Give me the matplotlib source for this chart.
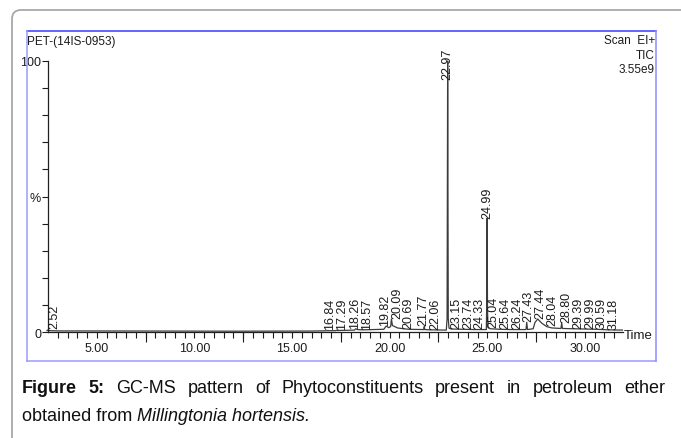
import matplotlib
matplotlib.use('Agg')
import matplotlib.pyplot as plt
from matplotlib import font_manager
from matplotlib.patches import FancyBboxPatch
from matplotlib.lines import Line2D
from matplotlib.transforms import IdentityTransform
import numpy as np

# peaks (retention time, apex height in % of the 22.97 peak)
peak_rt = [2.52, 16.84, 17.29, 18.26, 18.57, 19.82, 20.09, 20.69, 21.77, 22.06,
           22.97, 23.15, 23.74, 24.33, 24.99, 25.04, 25.64, 26.24, 27.43, 27.44,
           28.04, 28.80, 29.39, 29.99, 30.59, 31.18]
peak_height = [0.9, 0.6, 0.7, 1.2, 0.8, 2.2, 4.8, 1.0, 2.0, 0.8,
               100, 1.0, 0.9, 0.9, 42, 1.6, 1.0, 0.9, 3.6, 4.8,
               2.0, 3.3, 1.2, 1.1, 1.0, 0.8]

# TIC trace
trace_time = [2.45, 2.50, 2.52, 2.56, 3.0, 8.0, 12.0, 16.0, 16.80, 16.84, 16.88,
              17.25, 17.29, 17.33, 18.20, 18.26, 18.35, 18.55, 18.57, 18.62,
              19.70, 19.82, 19.95, 20.05, 20.09, 20.14, 20.40, 20.69, 21.00,
              21.74, 21.77, 21.80, 22.06, 22.90, 22.94, 22.97, 23.00, 23.04,
              23.15, 23.74, 24.33, 24.95, 24.97, 24.99, 25.01, 25.04, 25.15,
              25.64, 26.24, 26.98, 27.02, 27.06, 27.35, 27.44, 27.58, 27.80,
              28.04, 28.30, 28.77, 28.81, 28.85, 29.39, 29.99, 30.59, 31.18, 31.92]
trace_pct = [0.5, 0.7, 0.9, 0.5, 0.4, 0.35, 0.3, 0.35, 0.45, 0.6, 0.45,
             0.5, 0.7, 0.55, 0.7, 1.2, 0.9, 0.8, 0.9, 0.8,
             1.0, 2.2, 1.6, 2.0, 4.8, 2.4, 1.5, 1.2, 1.0,
             0.9, 2.0, 0.9, 0.8, 0.7, 5.0, 100, 5.0, 1.4,
             1.1, 1.0, 0.9, 0.9, 10.0, 42, 8.0, 1.6, 1.2,
             1.0, 0.9, 0.9, 3.6, 0.9, 1.2, 3.5, 4.8, 3.2,
             2.0, 1.5, 1.3, 3.3, 1.3, 1.2, 1.1, 1.0, 0.8, 0.7]

x_major = [5, 10, 15, 20, 25, 30]

W, H = 681, 439
names = {f.name for f in font_manager.fontManager.ttflist}
NARROW = 'Liberation Sans Narrow' if 'Liberation Sans Narrow' in names else 'Liberation Sans'
SANS = 'Liberation Sans'
INK = '#1c1c1c'


def fx(x):
    return x / W


def fy(y):
    return 1 - y / H


fig = plt.figure(figsize=(W / 100, H / 100), dpi=100)
fig.patch.set_facecolor('white')

# outer rounded grey box (runs off the right/bottom edge)
box = FancyBboxPatch((12, -60), 740, H - 11 + 60,
                     boxstyle='round,pad=0,rounding_size=9',
                     transform=IdentityTransform(), fill=False,
                     ec='#a8a8a8', lw=1.3)
fig.add_artist(box)

# blue frame around the chromatogram
for (x0, y0, x1, y1, c) in [(27, 32, 656, 32, '#3a3aff'), (27, 362, 656, 362, '#9a9aff'),
                            (27, 32, 27, 362, '#9a9aff'), (656, 32, 656, 362, '#8c8cff')]:
    fig.add_artist(Line2D([fx(x0), fx(x1)], [fy(y0), fy(y1)],
                          transform=fig.transFigure, color=c, lw=1.1))

ax = fig.add_axes([fx(48), fy(333), (623 - 48) / W, (333 - 62) / H])
ax.plot(trace_time, trace_pct, color='#3c3c3c', lw=0.9, clip_on=False)
ax.set_xlim(2.5, 31.95)
ax.set_ylim(0, 100)
for s in ['top', 'right']:
    ax.spines[s].set_visible(False)
for s in ['left', 'bottom']:
    ax.spines[s].set_linewidth(0.9)
    ax.spines[s].set_color('#202020')

ax.set_xticks(x_major)
ax.set_xticklabels([f'{v:.2f}' for v in x_major], fontfamily=NARROW, fontsize=9)
ax.set_xticks(np.arange(3.0, 32.0, 0.5), minor=True)
ax.tick_params(axis='x', which='both', length=4, width=0.8, pad=3, colors=INK)
sec = ax.secondary_xaxis('bottom')
sec.set_ticks(np.arange(7.5, 31, 5))
sec.tick_params(length=7, width=0.8, labelbottom=False, colors=INK)
sec.spines['bottom'].set_visible(False)

ax.set_yticks(np.arange(0, 101, 10))
ax.set_yticklabels(['0', '', '', '', '', '%', '', '', '', '', '100'],
                   fontfamily=NARROW, fontsize=9)
ax.tick_params(axis='y', length=4, width=0.8, pad=1, colors=INK)

# peak labels: low ones pushed apart, right to left
xs = [rt + 0.28 if h < 10 else rt for rt, h in zip(peak_rt, peak_height)]
nxt = None
for i in range(len(peak_rt) - 1, -1, -1):
    if peak_height[i] >= 10:
        continue
    if nxt is not None:
        xs[i] = min(xs[i], xs[nxt] - 0.6)
    nxt = i
for rt, h, x in zip(peak_rt, peak_height, xs):
    yb = min(h, 93.3) if h >= 10 else h + 0.4
    ax.text(x, yb, f'{rt:.2f}', rotation=90, ha='center', va='bottom',
            fontfamily=SANS, fontsize=9, color=INK, clip_on=False)

fig.text(fx(624), fy(336), 'Time', fontfamily=NARROW, fontsize=9.5,
         va='center', ha='left', color=INK)

# header texts
fig.text(fx(27), fy(42), 'PET-(14IS-0953)', fontfamily=NARROW, fontsize=8.5,
         va='center', ha='left', color=INK)
for txt, y in [('Scan  EI+', 41), ('TIC', 56), ('3.55e9', 70)]:
    fig.text(fx(655), fy(y), txt, fontfamily=NARROW, fontsize=8.5,
             va='center', ha='right', color=INK)

# caption, first line justified between x=22 and x=665
fig.canvas.draw()
rend = fig.canvas.get_renderer()
cap_size = 13
words = [('Figure', 'bold'), ('5:', 'bold')] + [(w, 'normal') for w in
         'GC-MS pattern of Phytoconstituents present in petroleum ether'.split()]
arts = [fig.text(0, fy(389), w, fontfamily=SANS, fontsize=cap_size, fontweight=wt,
                 va='center', ha='left', color='#111111') for w, wt in words]
widths = [a.get_window_extent(rend).width for a in arts]
gap = (665 - 22 - sum(widths)) / (len(arts) - 1)
xpos = 22
for a, wd in zip(arts, widths):
    a.set_x(fx(xpos))
    xpos += wd + gap

t1 = fig.text(fx(22), fy(417), 'obtained from ', fontfamily=SANS, fontsize=cap_size,
              va='center', ha='left', color='#111111')
w1 = t1.get_window_extent(rend).width
fig.text(fx(22) + w1 / W, fy(417), 'Millingtonia hortensis.', fontfamily=SANS,
         fontsize=cap_size, style='italic', va='center', ha='left', color='#111111')

fig.savefig('out.png', dpi=100)
